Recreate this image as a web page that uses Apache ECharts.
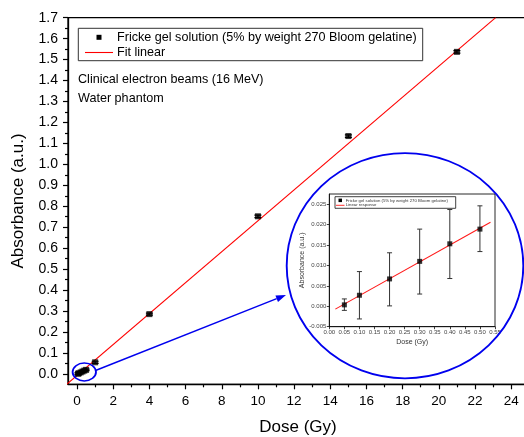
<!DOCTYPE html>
<html>
<head>
<meta charset="utf-8">
<script src="https://cdn.jsdelivr.net/npm/echarts@6/dist/echarts.min.js"></script>
<style>
  html, body { margin: 0; padding: 0; background: #fff; }
  #chart { width: 524px; height: 437px; }
</style>
</head>
<body>
<div id="chart"></div>
<script>
// main plot: dose (Gy) vs absorbance
var dose = [0.05, 0.1, 0.2, 0.3, 0.4, 0.5, 1, 4, 10, 15, 21]
var absorbance = [0.0004, 0.0027, 0.0067, 0.011, 0.0153, 0.0189, 0.055, 0.285, 0.752, 1.135, 1.537]
var absErr = [0.004, 0.004, 0.004, 0.004, 0.004, 0.004, 0.005, 0.005, 0.006, 0.006, 0.006]
var fitLinear = [[-0.58, -0.05], [23.14, 1.7]]
var xTicks = [0, 2, 4, 6, 8, 10, 12, 14, 16, 18, 20, 22, 24]
var xMinorTicks = [1, 3, 5, 7, 9, 11, 13, 15, 17, 19, 21, 23]
var yTicks = [0, 0.1, 0.2, 0.3, 0.4, 0.5, 0.6, 0.7, 0.8, 0.9, 1.0, 1.1, 1.2, 1.3, 1.4, 1.5, 1.6, 1.7]
var yMinorTicks = [0.05, 0.15, 0.25, 0.35, 0.45, 0.55, 0.65, 0.75, 0.85, 0.95, 1.05, 1.15, 1.25, 1.35, 1.45, 1.55, 1.65]

// inset: low dose range
var insetDose = [0.05, 0.1, 0.2, 0.3, 0.4, 0.5]
var insetAbs = [0.00035, 0.0027, 0.0067, 0.011, 0.0153, 0.0189]
var insetLow = [-0.001, -0.0031, 0.0001, 0.003, 0.0068, 0.0134]
var insetHigh = [0.0018, 0.0085, 0.0131, 0.0189, 0.0237, 0.0246]
var insetFit = [[0.02, -0.0007], [0.535, 0.0206]]
var insetXTicks = [0, 0.05, 0.1, 0.15, 0.2, 0.25, 0.3, 0.35, 0.4, 0.45, 0.5, 0.55]
var insetYTicks = [-0.005, 0, 0.005, 0.01, 0.015, 0.02, 0.025]

var FONT = 'Liberation Sans, Arial, sans-serif'

var mainData = dose.map(function (d, i) { return [d, absorbance[i]] })
var mainErr = dose.map(function (d, i) { return [d, absorbance[i] - absErr[i], absorbance[i] + absErr[i]] })
var insetData = insetDose.map(function (d, i) { return [d, insetAbs[i]] })
var insetErr = insetDose.map(function (d, i) { return [d, insetLow[i], insetHigh[i]] })

function errorBars(capW, color, lw) {
  return function (params, api) {
    var x = api.value(0)
    var lo = api.coord([x, api.value(1)])
    var hi = api.coord([x, api.value(2)])
    var st = { stroke: color, lineWidth: lw }
    return {
      type: 'group',
      children: [
        { type: 'line', shape: { x1: lo[0], y1: lo[1], x2: hi[0], y2: hi[1] }, style: st },
        { type: 'line', shape: { x1: lo[0] - capW, y1: lo[1], x2: lo[0] + capW, y2: lo[1] }, style: st },
        { type: 'line', shape: { x1: hi[0] - capW, y1: hi[1], x2: hi[0] + capW, y2: hi[1] }, style: st }
      ]
    }
  }
}

// arrow from the small ellipse to the big circle
var a0 = [95.5, 370.5], a1 = [286, 295]
var dx = a1[0] - a0[0], dy = a1[1] - a0[1]
var len = Math.sqrt(dx * dx + dy * dy)
var ux = dx / len, uy = dy / len
var bx = a1[0] - 10 * ux, by = a1[1] - 10 * uy
var arrowHead = [a1, [bx - 3.5 * uy, by + 3.5 * ux], [bx + 3.5 * uy, by - 3.5 * ux]]

var myChart = echarts.init(document.getElementById('chart'))

myChart.setOption({
  backgroundColor: '#fff',
  animation: false,
  textStyle: { fontFamily: FONT },
  grid: [
    { left: 68, top: 17.7, width: 460, height: 366.6, outerBoundsMode: 'none', containLabel: false, show: true, borderColor: '#000', borderWidth: 1.3, backgroundColor: 'transparent' },
    { left: 329.3, top: 194, width: 165.7, height: 132.7, outerBoundsMode: 'none', containLabel: false, show: true, borderColor: '#111', borderWidth: 0.9, backgroundColor: '#fff' }
  ],
  xAxis: [
    {
      type: 'value', gridIndex: 0, position: 'bottom', min: -0.5, max: 24.93,
      name: 'Dose (Gy)', nameLocation: 'middle', nameGap: 35,
      nameTextStyle: { fontSize: 17, color: '#000', fontFamily: FONT },
      axisLine: { onZero: false, lineStyle: { color: '#000', width: 1.3 } },
      axisTick: { show: true, length: 5, customValues: xTicks, lineStyle: { color: '#000', width: 1.2 } },
      axisLabel: { customValues: xTicks, fontSize: 13.5, color: '#000', margin: 10, fontFamily: FONT },
      splitLine: { show: false }
    },
    {
      type: 'value', gridIndex: 0, position: 'bottom', min: -0.5, max: 24.93,
      axisLine: { show: false, onZero: false },
      axisTick: { show: true, length: 3, customValues: xMinorTicks, lineStyle: { color: '#000', width: 1.2 } },
      axisLabel: { show: false },
      splitLine: { show: false }
    },
    {
      type: 'value', gridIndex: 1, position: 'bottom', min: 0, max: 0.55,
      name: 'Dose (Gy)', nameLocation: 'middle', nameGap: 12,
      nameTextStyle: { fontSize: 7, color: '#333', fontFamily: FONT },
      axisLine: { onZero: false, lineStyle: { color: '#111', width: 0.9 } },
      axisTick: { show: true, length: 2.5, customValues: insetXTicks, lineStyle: { color: '#111', width: 0.8 } },
      axisLabel: {
        customValues: insetXTicks, fontSize: 6, color: '#444', margin: 3, fontFamily: FONT,
        formatter: function (v) { return v.toFixed(2) }
      },
      splitLine: { show: false }
    }
  ],
  yAxis: [
    {
      type: 'value', gridIndex: 0, position: 'left', min: -0.05, max: 1.7,
      name: 'Absorbance (a.u.)', nameLocation: 'middle', nameGap: 41,
      nameTextStyle: { fontSize: 17, color: '#000', fontFamily: FONT },
      axisLine: { onZero: false, lineStyle: { color: '#000', width: 1.3 } },
      axisTick: { show: true, length: 5, customValues: yTicks, lineStyle: { color: '#000', width: 1.2 } },
      axisLabel: {
        customValues: yTicks, fontSize: 14, color: '#000', margin: 10, fontFamily: FONT,
        formatter: function (v) { return v.toFixed(1) }
      },
      splitLine: { show: false }
    },
    {
      type: 'value', gridIndex: 0, position: 'left', min: -0.05, max: 1.7,
      axisLine: { show: false, onZero: false },
      axisTick: { show: true, length: 3, customValues: yMinorTicks, lineStyle: { color: '#000', width: 1.2 } },
      axisLabel: { show: false },
      splitLine: { show: false }
    },
    {
      type: 'value', gridIndex: 1, position: 'left', min: -0.005, max: 0.0275,
      name: 'Absorbance (a.u.)', nameLocation: 'middle', nameGap: 22,
      nameTextStyle: { fontSize: 7, color: '#333', fontFamily: FONT },
      axisLine: { onZero: false, lineStyle: { color: '#111', width: 0.9 } },
      axisTick: { show: true, length: 2.5, customValues: insetYTicks, lineStyle: { color: '#111', width: 0.8 } },
      axisLabel: {
        customValues: insetYTicks, fontSize: 6, color: '#444', margin: 3, fontFamily: FONT,
        formatter: function (v) { return v.toFixed(3) }
      },
      splitLine: { show: false }
    }
  ],
  series: [
    {
      name: 'Fit linear', type: 'line', xAxisIndex: 0, yAxisIndex: 0,
      data: fitLinear, symbol: 'none', clip: true,
      lineStyle: { color: '#ff0000', width: 1.1 }, z: 3
    },
    {
      type: 'custom', xAxisIndex: 0, yAxisIndex: 0, data: mainErr,
      renderItem: errorBars(3.5, '#000', 1.2), encode: { x: 0, y: [1, 2] }, clip: true, z: 4
    },
    {
      name: 'Fricke gel solution (5% by weight 270 Bloom gelatine)', type: 'scatter',
      xAxisIndex: 0, yAxisIndex: 0, data: mainData,
      symbol: 'rect', symbolSize: 6, itemStyle: { color: '#000' }, z: 5
    },
    {
      name: 'Linear response', type: 'line', xAxisIndex: 2, yAxisIndex: 2,
      data: insetFit, symbol: 'none',
      lineStyle: { color: '#ff1a1a', width: 1.1 }, z: 3
    },
    {
      type: 'custom', xAxisIndex: 2, yAxisIndex: 2, data: insetErr,
      renderItem: errorBars(2.5, '#333', 1), encode: { x: 0, y: [1, 2] }, z: 4
    },
    {
      type: 'scatter', xAxisIndex: 2, yAxisIndex: 2, data: insetData,
      symbol: 'rect', symbolSize: 5, itemStyle: { color: '#000' }, z: 5
    }
  ],
  graphic: [
    // main legend
    { type: 'rect', shape: { x: 78.3, y: 28.3, width: 344.4, height: 32.4 }, style: { fill: 'none', stroke: '#333', lineWidth: 1 }, z: 10 },
    { type: 'rect', shape: { x: 96.5, y: 34.8, width: 5, height: 5 }, style: { fill: '#000' }, z: 10 },
    { type: 'text', x: 117, y: 37.5, style: { text: 'Fricke gel solution (5% by weight 270 Bloom gelatine)', fontSize: 12.6, fontFamily: FONT, fill: '#000', verticalAlign: 'middle' }, z: 10 },
    { type: 'line', shape: { x1: 85, y1: 52.5, x2: 113, y2: 52.5 }, style: { stroke: '#ff0000', lineWidth: 1.1 }, z: 10 },
    { type: 'text', x: 117, y: 52.5, style: { text: 'Fit linear', fontSize: 12.6, fontFamily: FONT, fill: '#000', verticalAlign: 'middle' }, z: 10 },
    { type: 'text', x: 78, y: 79.5, style: { text: 'Clinical electron beams (16 MeV)', fontSize: 12.6, fontFamily: FONT, fill: '#000', verticalAlign: 'middle' }, z: 10 },
    { type: 'text', x: 78, y: 99, style: { text: 'Water phantom', fontSize: 12.6, fontFamily: FONT, fill: '#000', verticalAlign: 'middle' }, z: 10 },
    // zoom annotations
    { type: 'circle', x: 84.3, y: 372, scaleX: 1.3, shape: { cx: 0, cy: 0, r: 9 }, style: { fill: 'none', stroke: '#0000ee', lineWidth: 1.4 }, z: 10 },
    { type: 'line', shape: { x1: a0[0], y1: a0[1], x2: bx, y2: by }, style: { stroke: '#0000ee', lineWidth: 1.4 }, z: 10 },
    { type: 'polygon', shape: { points: arrowHead }, style: { fill: '#0000ee' }, z: 10 },
    { type: 'circle', x: 405, y: 265.7, scaleX: 118.3 / 112.6, shape: { cx: 0, cy: 0, r: 112.6 }, style: { fill: 'none', stroke: '#0000ee', lineWidth: 1.8 }, z: 10 },
    // inset legend
    { type: 'rect', shape: { x: 335, y: 196.7, width: 120.7, height: 11.6 }, style: { fill: '#fff', stroke: '#111', lineWidth: 0.8 }, z: 10 },
    { type: 'rect', shape: { x: 338.5, y: 198.6, width: 3.5, height: 3.5 }, style: { fill: '#000' }, z: 11 },
    { type: 'text', x: 345.7, y: 200.6, style: { text: 'Fricke gel solution (5% by weight 270 Bloom gelatine)', fontSize: 4.3, fontFamily: FONT, fill: '#333', verticalAlign: 'middle' }, z: 11 },
    { type: 'line', shape: { x1: 336, y1: 205.3, x2: 344.5, y2: 205.3 }, style: { stroke: '#ff1a1a', lineWidth: 0.9 }, z: 11 },
    { type: 'text', x: 345.7, y: 205.3, style: { text: 'Linear response', fontSize: 4.3, fontFamily: FONT, fill: '#333', verticalAlign: 'middle' }, z: 11 }
  ]
})
</script>
</body>
</html>
